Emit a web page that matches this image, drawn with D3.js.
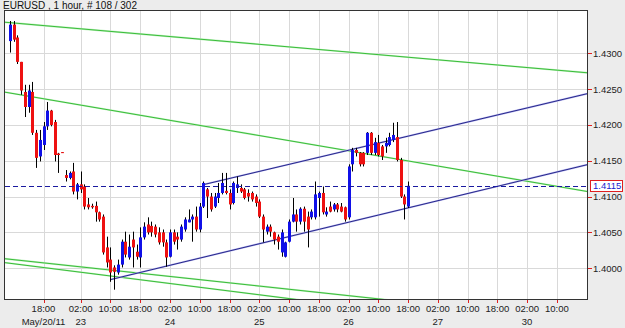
<!DOCTYPE html>
<html>
<head>
<meta charset="utf-8">
<script src="https://cdn.jsdelivr.net/npm/d3@7"></script>
<style>
  html, body { margin: 0; padding: 0; background: #ececec; }
  svg { display: block; font-family: "Liberation Sans", Arial, sans-serif; }
</style>
</head>
<body>
<svg id="chart" width="625" height="328"></svg>
<script>
const title = 'EURUSD , 1 hour, # 108 / 302';

// hourly candles, bar index 0..107
const open = [1.4317,1.4340,1.4322,1.4288,1.4246,1.4225,1.4246,1.4189,1.4156,1.4172,
  1.4198,1.4220,1.4204,1.4160,1.4162,1.4130,1.4126,1.4135,1.4107,1.4117,
  1.4114,1.4089,1.4087,1.4087,1.4078,1.4072,1.4029,1.4012,1.4001,1.3994,
  1.4005,1.4037,1.4015,1.4040,1.4023,1.4015,1.4043,1.4061,1.4059,1.4058,
  1.4050,1.4050,1.4036,1.4016,1.4050,1.4044,1.4040,1.4054,1.4064,1.4068,
  1.4072,1.4054,1.4086,1.4110,1.4100,1.4086,1.4098,1.4105,1.4108,1.4105,
  1.4091,1.4112,1.4112,1.4110,1.4105,1.4105,1.4100,1.4093,1.4072,1.4051,
  1.4058,1.4050,1.4044,1.4022,1.4016,1.4037,1.4065,1.4075,1.4065,1.4083,
  1.4072,1.4071,1.4071,1.4098,1.4105,1.4075,1.4086,1.4082,1.4089,1.4086,
  1.4085,1.4071,1.4145,1.4165,1.4161,1.4161,1.4161,1.4189,1.4161,1.4175,
  1.4170,1.4170,1.4172,1.4179,1.4183,1.4151,1.4100,1.4086];
const high = [1.4345,1.4345,1.4325,1.4288,1.4256,1.4256,1.4260,1.4193,1.4193,1.4204,
  1.4232,1.4221,1.4207,1.4161,1.4162,1.4137,1.4135,1.4147,1.4119,1.4135,
  1.4117,1.4098,1.4090,1.4093,1.4079,1.4075,1.4044,1.4029,1.4004,1.4012,
  1.4040,1.4051,1.4047,1.4051,1.4033,1.4057,1.4064,1.4071,1.4065,1.4061,
  1.4057,1.4054,1.4040,1.4054,1.4054,1.4050,1.4061,1.4071,1.4082,1.4075,
  1.4086,1.4091,1.4121,1.4112,1.4105,1.4105,1.4119,1.4133,1.4133,1.4110,
  1.4121,1.4128,1.4117,1.4112,1.4110,1.4107,1.4103,1.4096,1.4075,1.4061,
  1.4061,1.4051,1.4047,1.4054,1.4037,1.4068,1.4098,1.4082,1.4085,1.4086,
  1.4079,1.4082,1.4121,1.4107,1.4114,1.4085,1.4093,1.4091,1.4091,1.4091,
  1.4086,1.4145,1.4168,1.4168,1.4162,1.4162,1.4190,1.4190,1.4182,1.4186,
  1.4172,1.4182,1.4189,1.4203,1.4204,1.4154,1.4103,1.4121];
const low = [1.4301,1.4316,1.4285,1.4242,1.4211,1.4217,1.4186,1.4140,1.4149,1.4165,
  1.4193,1.4198,1.4149,1.4133,1.4161,1.4121,1.4124,1.4103,1.4096,1.4105,
  1.4082,1.4082,1.4083,1.4065,1.4065,1.4019,1.4001,1.3981,1.3970,1.3991,
  1.4001,1.4015,1.4012,1.4001,1.4012,1.4001,1.4040,1.4047,1.4044,1.4043,
  1.4033,1.4030,1.4002,1.4015,1.4033,1.4026,1.4037,1.4051,1.4064,1.4037,
  1.4051,1.4050,1.4084,1.4070,1.4079,1.4084,1.4091,1.4103,1.4103,1.4082,
  1.4089,1.4105,1.4105,1.4096,1.4093,1.4093,1.4086,1.4070,1.4036,1.4047,
  1.4044,1.4033,1.4026,1.4016,1.4015,1.4036,1.4064,1.4051,1.4061,1.4051,
  1.4029,1.4068,1.4068,1.4072,1.4075,1.4072,1.4078,1.4079,1.4078,1.4078,
  1.4065,1.4068,1.4135,1.4156,1.4142,1.4142,1.4158,1.4158,1.4158,1.4156,
  1.4151,1.4161,1.4170,1.4176,1.4149,1.4098,1.4068,1.4084];
const close = [1.4340,1.4319,1.4288,1.4248,1.4225,1.4248,1.4189,1.4154,1.4179,1.4198,
  1.4220,1.4200,1.4158,1.4158,1.4161,1.4126,1.4133,1.4107,1.4117,1.4110,
  1.4086,1.4085,1.4085,1.4078,1.4068,1.4022,1.4008,1.3994,1.3995,1.4005,
  1.4037,1.4019,1.4030,1.4029,1.4016,1.4043,1.4058,1.4050,1.4050,1.4047,
  1.4036,1.4036,1.4015,1.4050,1.4037,1.4040,1.4058,1.4068,1.4068,1.4072,
  1.4054,1.4086,1.4119,1.4100,1.4082,1.4100,1.4105,1.4119,1.4105,1.4089,
  1.4119,1.4117,1.4107,1.4098,1.4100,1.4096,1.4091,1.4072,1.4054,1.4058,
  1.4051,1.4040,1.4037,1.4050,1.4036,1.4065,1.4075,1.4065,1.4083,1.4065,
  1.4054,1.4079,1.4103,1.4105,1.4078,1.4079,1.4079,1.4089,1.4082,1.4079,
  1.4068,1.4142,1.4165,1.4161,1.4145,1.4145,1.4189,1.4161,1.4176,1.4158,
  1.4156,1.4175,1.4183,1.4186,1.4151,1.4100,1.4089,1.4115];

// axis ticks (bar index)
const timeTicks = [9,19,27,35,43,51,59,67,75,83,91,99,107,115,123,131,139,147];
const timeLabels = ['18:00','02:00','10:00','18:00','02:00','10:00','18:00','02:00','10:00',
  '18:00','02:00','10:00','18:00','02:00','10:00','18:00','02:00','10:00'];
const dateTicks = [9,19,43,67,91,115,139];
const dateLabels = ['May/20/11','23','24','25','26','27','30'];
const priceTicks = [1.4000,1.4050,1.4100,1.4150,1.4200,1.4250,1.4300];

// trend lines: [[barIndex, price], [barIndex, price]]
const greenLines = [
  [[-1.34, 1.43433], [155.1, 1.42728]],
  [[-1.6, 1.42459], [155.1, 1.41071]],
  [[-1.34, 1.40132], [155.1, 1.39259]],
  [[-1.34, 1.40077], [155.1, 1.39051]]
];
const blueLines = [
  [[26.9, 1.39839], [155.1, 1.41444]],
  [[51.9, 1.41165], [155.1, 1.42435]]
];

const W = 625, H = 328;
const plot = { left: 5, right: 587, top: 11, bottom: 299 };

const svg = d3.select('#chart');

const x = d3.scaleLinear().domain([-1.35, 155.1]).range([plot.left, plot.right]);
const y = d3.scaleLinear().domain([1.3957, 1.4359]).range([plot.bottom, plot.top]);

svg.append('rect').attr('width', W).attr('height', H).attr('fill', '#ececec');

svg.append('text')
  .attr('x', 3).attr('y', 9)
  .attr('font-size', 10).attr('fill', '#111')
  .text(title);

svg.append('defs').append('clipPath').attr('id', 'clip')
  .append('rect')
  .attr('x', plot.left).attr('y', plot.top)
  .attr('width', plot.right - plot.left).attr('height', plot.bottom - plot.top);

svg.append('rect')
  .attr('x', plot.left).attr('y', plot.top)
  .attr('width', plot.right - plot.left).attr('height', plot.bottom - plot.top)
  .attr('fill', '#fff');

const g = svg.append('g').attr('clip-path', 'url(#clip)');

// grid
g.selectAll('.vgrid').data(timeTicks).join('line')
  .attr('x1', (d) => Math.round(x(d)) + 0.5).attr('x2', (d) => Math.round(x(d)) + 0.5)
  .attr('y1', plot.top).attr('y2', plot.bottom)
  .attr('stroke', '#d9d9d9');
g.selectAll('.hgrid').data(priceTicks).join('line')
  .attr('x1', plot.left).attr('x2', plot.right)
  .attr('y1', (d) => Math.round(y(d)) + 0.5).attr('y2', (d) => Math.round(y(d)) + 0.5)
  .attr('stroke', '#d9d9d9');

// trend lines
function drawLines(data, core, halo) {
  g.append('g').selectAll('line').data(data).join('line')
    .attr('x1', (d) => x(d[0][0])).attr('y1', (d) => y(d[0][1]))
    .attr('x2', (d) => x(d[1][0])).attr('y2', (d) => y(d[1][1]))
    .attr('stroke', halo).attr('stroke-width', 1.8);
  g.append('g').selectAll('line').data(data).join('line')
    .attr('x1', (d) => x(d[0][0])).attr('y1', (d) => y(d[0][1]))
    .attr('x2', (d) => x(d[1][0])).attr('y2', (d) => y(d[1][1]))
    .attr('stroke', core).attr('stroke-width', 0.9);
}
drawLines(greenLines, '#2ab52a', '#c2f2c2');
drawLines(blueLines, '#16167e', '#bcbcf2');

// candles
const idx = d3.range(open.length);
const bw = 3;
g.selectAll('.wick').data(idx).join('line')
  .attr('x1', (i) => Math.round(x(i)) + 0.5).attr('x2', (i) => Math.round(x(i)) + 0.5)
  .attr('y1', (i) => y(high[i])).attr('y2', (i) => y(low[i]))
  .attr('stroke', '#000');
g.selectAll('.body').data(idx).join('rect')
  .attr('x', (i) => Math.round(x(i)) - 1)
  .attr('width', bw)
  .attr('y', (i) => y(Math.max(open[i], close[i])))
  .attr('height', (i) => Math.max(1, Math.abs(y(open[i]) - y(close[i]))))
  .attr('fill', (i) => (close[i] >= open[i] ? '#1010e8' : '#ee1111'));

// last price line
const last = close[close.length - 1];
g.append('line')
  .attr('x1', plot.left).attr('x2', plot.right)
  .attr('y1', Math.round(y(last)) + 0.5).attr('y2', Math.round(y(last)) + 0.5)
  .attr('stroke', '#1a1aa0').attr('stroke-dasharray', '5,3');

// frame
svg.append('rect')
  .attr('x', plot.left - 0.5).attr('y', plot.top - 0.5)
  .attr('width', plot.right - plot.left + 1).attr('height', plot.bottom - plot.top + 1)
  .attr('fill', 'none').attr('stroke', '#333');

// right axis
const ra = svg.append('g');
ra.selectAll('line').data(priceTicks).join('line')
  .attr('x1', plot.right + 1).attr('x2', plot.right + 5)
  .attr('y1', (d) => Math.round(y(d)) + 0.5).attr('y2', (d) => Math.round(y(d)) + 0.5)
  .attr('stroke', '#e02020');
ra.selectAll('text').data(priceTicks).join('text')
  .attr('x', plot.right + 6).attr('y', (d) => y(d) + 3.5)
  .attr('font-size', 9.5).attr('fill', '#222')
  .text((d) => d.toFixed(4));

// last price tag
const ly = y(last);
svg.append('rect')
  .attr('x', plot.right + 3.5).attr('y', Math.round(ly) - 5.5)
  .attr('width', 32).attr('height', 11)
  .attr('fill', '#fff').attr('stroke', '#e02020');
svg.append('text')
  .attr('x', plot.right + 6).attr('y', ly + 3.5)
  .attr('font-size', 9.5).attr('fill', '#1a1ad0')
  .text(last.toFixed(4));

// bottom axis
const ba = svg.append('g');
ba.selectAll('line').data(timeTicks).join('line')
  .attr('x1', (d) => Math.round(x(d)) + 0.5).attr('x2', (d) => Math.round(x(d)) + 0.5)
  .attr('y1', plot.bottom + 1).attr('y2', plot.bottom + 4)
  .attr('stroke', '#e02020');
ba.selectAll('.tl').data(timeTicks).join('text')
  .attr('x', (d) => x(d)).attr('y', 312)
  .attr('text-anchor', 'middle')
  .attr('font-size', 9.5).attr('fill', '#222')
  .text((d, i) => timeLabels[i]);
ba.selectAll('.dl').data(dateTicks).join('text')
  .attr('x', (d) => x(d)).attr('y', 325)
  .attr('text-anchor', 'middle')
  .attr('font-size', 9.5).attr('fill', '#222')
  .text((d, i) => dateLabels[i]);
</script>
</body>
</html>
